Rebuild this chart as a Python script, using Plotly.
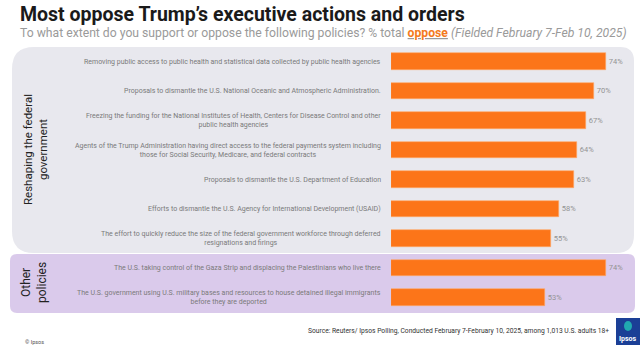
import plotly.graph_objects as go

labels = [
    "Removing public access to public health and statistical data collected by public health agencies",
    "Proposals to dismantle the U.S. National Oceanic and Atmospheric Administration.",
    "Freezing the funding for the National Institutes of Health, Centers for Disease Control and other<br>public health agencies",
    "Agents of the Trump Administration having direct access to the federal payments system including<br>those for Social Security, Medicare, and federal contracts",
    "Proposals to dismantle the U.S. Department of Education",
    "Efforts to dismantle the U.S. Agency for International Development (USAID)",
    "The effort to quickly reduce the size of the federal government workforce through deferred<br>resignations and firings",
    "The U.S. taking control of the Gaza Strip and displacing the Palestinians who live there",
    "The U.S. government using U.S. military bases and resources to house detained illegal immigrants<br>before they are deported",
]
values = [74, 70, 67, 64, 63, 58, 55, 74, 53]
groups = ["Reshaping the federal<br>government", "Other<br>policies"]

W, H = 640, 349
L, R, T, B = 391, 5, 47, 37
PW, PH = W - L - R, H - T - B


def px(x):
    return (x - L) / PW


def py(y):
    return 1 - (y - T) / PH


def rrect(x0, y0, x1, y1, rtl, rtr, rbr, rbl):
    pts = [
        ("M", (x0 + rtl, y0)),
        ("L", (x1 - rtr, y0)),
        ("Q", (x1, y0), (x1, y0 + rtr)),
        ("L", (x1, y1 - rbr)),
        ("Q", (x1, y1), (x1 - rbr, y1)),
        ("L", (x0 + rbl, y1)),
        ("Q", (x0, y1), (x0, y1 - rbl)),
        ("L", (x0, y0 + rtl)),
        ("Q", (x0, y0), (x0 + rtl, y0)),
    ]
    s = ""
    for p in pts:
        cmd = p[0]
        s += cmd + " " + " ".join(f"{px(a):.5f},{py(b):.5f}" for a, b in p[1:]) + " "
    return s + "Z"


ypos = list(range(len(values)))

fig = go.Figure()
fig.add_trace(go.Bar(
    x=values, y=ypos, orientation="h",
    marker=dict(color="#FC7519", line=dict(color="#FFA766", width=0.6)),
    width=0.56,
    text=[f"{v}%" for v in values], textposition="outside",
    textfont=dict(size=7.5, color="#939393", family="Roboto"),
    cliponaxis=False, hoverinfo="skip",
))

shapes = [
    dict(type="path", xref="paper", yref="paper", layer="below",
         path=rrect(12, 47, 634, 253, 22, 14, 18, 22),
         fillcolor="#E8E8EE", line=dict(width=0)),
    dict(type="path", xref="paper", yref="paper", layer="below",
         path=rrect(10, 254, 635, 313, 7, 7, 7, 7),
         fillcolor="#DACAEB", line=dict(width=0)),
    dict(type="rect", xref="paper", yref="paper", layer="above",
         x0=px(616), x1=px(640), y0=py(345), y1=py(318),
         fillcolor="#1B3F96", line=dict(width=0)),
    dict(type="circle", xref="paper", yref="paper", layer="above",
         x0=px(624), x1=px(632), y0=py(331), y1=py(321),
         fillcolor="#21A9B0", line=dict(width=0)),
]

ann = []
for i, lab in enumerate(labels):
    ann.append(dict(x=px(383), y=i, xref="paper", yref="y", text=lab,
                    xanchor="right", yanchor="middle", align="center",
                    showarrow=False,
                    font=dict(size=7.0, color="#7a7a7a", family="Roboto")))

ann += [
    dict(x=px(35), y=py(150), xref="paper", yref="paper", text=groups[0],
         textangle=-90, showarrow=False, xanchor="center", yanchor="middle",
         font=dict(size=11.5, color="#222222", family="Roboto")),
    dict(x=px(34), y=py(283), xref="paper", yref="paper", text=groups[1],
         textangle=-90, showarrow=False, xanchor="center", yanchor="middle",
         font=dict(size=12, color="#222222", family="Roboto")),
    dict(x=px(18), y=py(14), xref="paper", yref="paper",
         text="<b>Most oppose Trump’s executive actions and orders</b>",
         showarrow=False, xanchor="left", yanchor="middle",
         font=dict(size=19.5, color="#1a1a1a", family="Roboto")),
    dict(x=px(18), y=py(33), xref="paper", yref="paper",
         text="To what extent do you support or oppose the following policies? % total "
              "<b><u><span style='color:#F47A20'>oppose</span></u></b> "
              "<i>(Fielded February 7-Feb 10, 2025)</i>",
         showarrow=False, xanchor="left", yanchor="middle",
         font=dict(size=12.2, color="#9a9a9a", family="Roboto")),
    dict(x=px(611), y=py(331), xref="paper", yref="paper",
         text="Source: Reuters/ Ipsos Polling, Conducted February 7-February 10, 2025, among 1,013 U.S. adults 18+",
         showarrow=False, xanchor="right", yanchor="middle",
         font=dict(size=6.7, color="#333333", family="Roboto")),
    dict(x=px(23), y=py(342), xref="paper", yref="paper", text="© Ipsos",
         showarrow=False, xanchor="left", yanchor="middle",
         font=dict(size=5.5, color="#555555", family="Roboto")),
    dict(x=px(628), y=py(339), xref="paper", yref="paper", text="<b>Ipsos</b>",
         showarrow=False, xanchor="center", yanchor="middle",
         font=dict(size=7, color="#ffffff", family="Roboto")),
]

fig.update_layout(
    width=W, height=H,
    margin=dict(l=L, r=R, t=T, b=B, pad=0),
    paper_bgcolor="#ffffff", plot_bgcolor="rgba(0,0,0,0)",
    showlegend=False,
    xaxis=dict(range=[0, 84], visible=False, fixedrange=True),
    yaxis=dict(range=[8.5, -0.5], visible=False, fixedrange=True),
    shapes=shapes, annotations=ann,
    bargap=0,
)

fig.write_html("out.html")
